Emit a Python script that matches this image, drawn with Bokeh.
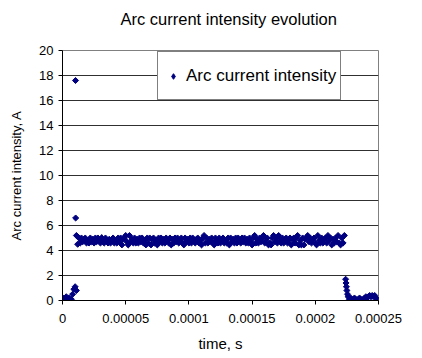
from bokeh.plotting import figure
from bokeh.models import (Range1d, FixedTicker, ColumnDataSource, Legend, LegendItem,
                          Title, CDSView, IndexFilter)
from bokeh.embed import file_html
from bokeh.resources import INLINE

# ---- data (time in microseconds, current in A) ----
ignition_t_us = [0, 1, 2, 3, 4, 5, 6, 7, 8, 9, 10, 10.3, 10.4, 11]
ignition_i = [0.1, 0.2, 0.0, 0.3, 0.1, 0.2, 0.0, 0.1, 0.5, 0.9, 1.1, 17.6, 6.6, 0.8]

arc_t_us = list(range(11, 224))
arc_i = [
    5.2, 4.5, 5.0, 4.6, 5.0, 4.7, 4.9, 5.0, 4.6, 4.8,
    4.6, 5.0, 4.7, 4.9, 4.6, 5.0, 4.7, 5.0, 4.8, 4.6,
    5.0, 4.7, 4.6, 5.0, 4.8, 4.6, 4.9, 4.6, 4.9, 5.0,
    4.6, 4.8, 4.6, 5.0, 4.7, 5.0, 4.45, 4.9, 5.0, 5.2,
    4.7, 4.45, 5.2, 4.7, 4.9, 4.6, 5.0, 4.6, 4.9, 4.6,
    5.0, 4.7, 5.0, 4.6, 4.8, 4.45, 5.0, 4.6, 5.0, 4.45,
    4.9, 5.0, 4.6, 4.8, 4.45, 5.0, 4.7, 5.0, 4.6, 4.9,
    4.6, 5.0, 4.8, 4.6, 5.0, 4.45, 4.9, 4.6, 5.0, 4.7,
    5.0, 4.6, 4.8, 5.0, 4.6, 4.45, 5.0, 4.7, 4.9, 4.6,
    5.0, 4.6, 5.0, 4.8, 4.6, 4.9, 5.0, 4.6, 4.8, 4.45,
    5.0, 5.2, 4.6, 5.0, 4.6, 4.9, 4.7, 5.0, 4.6, 4.45,
    5.0, 4.8, 4.6, 5.0, 4.6, 4.9, 5.0, 4.6, 4.8, 4.6,
    5.0, 4.45, 5.0, 4.7, 4.9, 4.6, 5.0, 4.6, 5.0, 4.8,
    4.6, 5.0, 4.7, 5.0, 4.6, 4.9, 4.6, 5.0, 4.7, 4.45,
    5.0, 5.2, 4.6, 4.9, 4.6, 5.0, 4.7, 5.0, 5.2, 4.6,
    4.8, 5.0, 4.45, 4.6, 4.45, 5.0, 5.2, 4.7, 5.0, 4.6,
    5.2, 4.8, 4.6, 5.0, 4.6, 4.9, 5.0, 4.6, 4.8, 5.0,
    4.45, 4.9, 5.0, 4.6, 5.0, 5.2, 4.45, 4.8, 4.45, 5.0,
    4.45, 4.9, 5.0, 5.2, 4.7, 5.0, 4.6, 4.9, 5.0, 4.6,
    4.45, 5.2, 4.8, 4.6, 5.0, 4.6, 4.9, 5.0, 4.6, 5.2,
    4.8, 5.0, 4.45, 4.9, 4.6, 5.0, 4.7, 5.2, 4.6, 4.45,
    5.0, 4.6, 5.2,
]

tail_t_us = [224, 224.3, 224.6, 225, 225.5, 226, 227, 228, 229, 230,
             231, 232, 233, 234, 235, 236, 237, 238, 239, 240,
             241, 242, 243, 244, 245, 246, 247, 248, 249, 250]
tail_i = [1.7, 1.4, 1.1, 0.8, 0.5, 0.3, 0.1, 0.2, 0.0, 0.1,
          0.2, 0.1, 0.0, 0.1, 0.2, 0.1, 0.0, 0.1, 0.2, 0.3,
          0.2, 0.3, 0.4, 0.3, 0.4, 0.3, 0.4, 0.2, 0.1, 0.0]

x_ticks = [0, 0.00005, 0.0001, 0.00015, 0.0002, 0.00025]
x_tick_labels = ["0", "0.00005", "0.0001", "0.00015", "0.0002", "0.00025"]
y_ticks = [0, 2, 4, 6, 8, 10, 12, 14, 16, 18, 20]

series_name = "Arc current intensity"
title_text = "Arc current intensity evolution"
x_title = "time, s"
y_title = "Arc current intensity, A"

# ---- build ----
t_all = [v * 1e-6 for v in ignition_t_us + arc_t_us + tail_t_us]
i_all = ignition_i + arc_i + tail_i
src = ColumnDataSource(dict(t=t_all, i=i_all))

FONT = "Liberation Sans"
NAVY = "#000080"

p = figure(width=422, height=358, output_backend="svg", toolbar_location=None,
           x_range=Range1d(0, 0.00025), y_range=Range1d(0, 20),
           min_border_left=62, min_border_right=44, min_border_top=50, min_border_bottom=58)
p.background_fill_color = "white"
p.border_fill_color = "white"
p.outline_line_color = "#808080"
p.outline_line_width = 1

# visible title (outer), with an empty spacer title between it and the frame
p.title.text = title_text
p.title.text_font = FONT
p.title.text_font_size = "16.5px"
p.title.text_font_style = "normal"
p.title.text_color = "black"
p.title.align = "left"
p.title.offset = 58
p.title.standoff = 0
spacer = Title(text=" ", text_font_size="10px", standoff=10)
p.add_layout(spacer, "above")

r = p.scatter("t", "i", source=src, marker="square", angle=0.785398, size=4.3,
              fill_color=NAVY, line_color=NAVY, line_width=1)
# diamond swatch for the legend: drawn on one sample inside the band only
swatch_index = len(ignition_i) + 20
legend_glyph = p.scatter("t", "i", source=src,
                         view=CDSView(filter=IndexFilter(indices=[swatch_index])),
                         marker="diamond", size=7, fill_color=NAVY, line_color=NAVY)

# axes
p.xaxis.ticker = FixedTicker(ticks=x_ticks)
p.xaxis.major_label_overrides = {k: v for k, v in zip(x_ticks, x_tick_labels)}
p.yaxis.ticker = FixedTicker(ticks=y_ticks)
for ax in (p.xaxis[0], p.yaxis[0]):
    ax.axis_line_color = "black"
    ax.major_tick_line_color = "black"
    ax.major_tick_out = 4
    ax.major_tick_in = 0
    ax.minor_tick_line_color = None
    ax.major_label_text_font = FONT
    ax.major_label_text_font_size = "13px"
    ax.major_label_text_color = "black"
    ax.axis_label_text_font = FONT
    ax.axis_label_text_font_style = "normal"
    ax.axis_label_text_color = "black"
p.xaxis.axis_label = x_title
p.yaxis.axis_label = y_title
p.xaxis.axis_label_text_font_size = "15px"
p.yaxis.axis_label_text_font_size = "13px"
p.xaxis.major_label_standoff = 9
p.yaxis.major_label_standoff = 5
p.xaxis.axis_label_standoff = 9
p.yaxis.axis_label_standoff = 12

p.xgrid.grid_line_color = None
p.ygrid.ticker = FixedTicker(ticks=[2, 4, 6, 8, 10, 12, 14, 16, 18])
p.ygrid.grid_line_color = "#303030"
p.ygrid.grid_line_width = 1

legend = Legend(items=[LegendItem(label=series_name, renderers=[legend_glyph])],
                location=(95, 200))
legend.label_text_font = FONT
legend.label_text_font_size = "17px"
legend.label_text_color = "black"
legend.border_line_color = "black"
legend.border_line_width = 1
legend.background_fill_color = "white"
legend.background_fill_alpha = 1
legend.padding = 4
legend.margin = 0
legend.glyph_width = 22
legend.glyph_height = 14
legend.label_standoff = 2
legend.label_height = 39
p.add_layout(legend, "center")

open("out.html", "w").write(file_html(p, INLINE))
